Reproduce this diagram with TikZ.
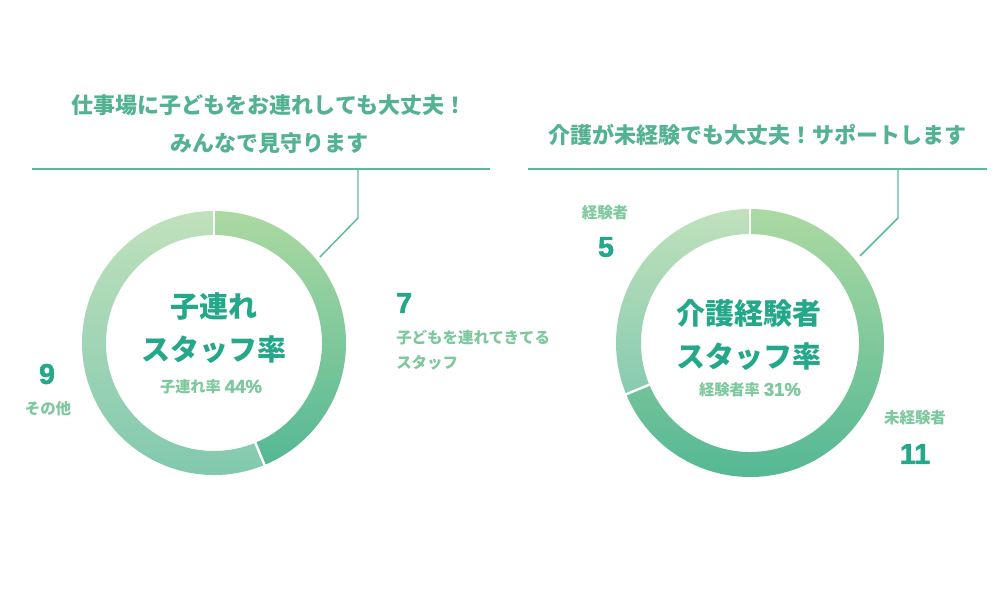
\documentclass[tikz,border=0pt]{standalone}
\usepackage{fontspec}
\setmainfont{Noto Sans CJK JP}
\newfontfamily\numfont{Liberation Sans Bold}[FakeBold=1.8]
\definecolor{titleC}{HTML}{23A88A}
\definecolor{headC}{HTML}{52B292}
\definecolor{lightC}{HTML}{7DC89D}
\definecolor{lineC}{HTML}{5DB99A}
\definecolor{aTop}{HTML}{ACD9A2}
\definecolor{aBot}{HTML}{54B894}
\definecolor{bTop}{HTML}{C0E1BB}
\definecolor{bBot}{HTML}{7DC7AE}
\tikzset{
  head/.style={inner sep=0pt, text=headC, font=\bfseries\fontsize{16.5pt}{18pt}\selectfont},
  ctitle/.style={inner sep=0pt, text=titleC, font=\bfseries\fontsize{21.75pt}{24pt}\selectfont},
  rate/.style={inner sep=0pt, text=lightC, font=\bfseries\fontsize{11.4pt}{13pt}\selectfont},
  lbl/.style={inner sep=0pt, text=lightC, font=\bfseries\fontsize{11.6pt}{13pt}\selectfont},
  bignum/.style={inner sep=0pt, text=titleC, font=\numfont\fontsize{21.4pt}{23pt}\selectfont},
  conn/.style={draw=lineC, line width=1.1pt},
  gap/.style={draw=white, line width=1.8pt}
}
\newcommand{\pct}[1]{{\numfont\fontsize{13.9pt}{15pt}\selectfont #1}}
\begin{document}
\begin{tikzpicture}[x=0.75pt,y=-0.75pt]
\useasboundingbox[fill=white] (0,0) rectangle (1000,589);

% ---------- left donut ----------
\coordinate (cL) at (214,343);
\shade[top color=aTop, bottom color=aBot]
  ([shift={(-90:132)}]cL) arc[start angle=-90,end angle=67.5,radius=132]
  -- ([shift={(67.5:108)}]cL) arc[start angle=67.5,end angle=-90,radius=108] -- cycle;
\shade[top color=bTop, bottom color=bBot]
  ([shift={(67.5:132)}]cL) arc[start angle=67.5,end angle=270,radius=132]
  -- ([shift={(270:108)}]cL) arc[start angle=270,end angle=67.5,radius=108] -- cycle;
\draw[gap] ([shift={(-90:104)}]cL) -- ([shift={(-90:136)}]cL);
\draw[gap] ([shift={(67.5:104)}]cL) -- ([shift={(67.5:136)}]cL);

% ---------- right donut ----------
\coordinate (cR) at (750,343);
\shade[top color=aTop, bottom color=aBot]
  ([shift={(-90:134)}]cR) arc[start angle=-90,end angle=157.5,radius=134]
  -- ([shift={(157.5:109)}]cR) arc[start angle=157.5,end angle=-90,radius=109] -- cycle;
\shade[top color=bTop, bottom color=bBot!85!bTop]
  ([shift={(157.5:134)}]cR) arc[start angle=157.5,end angle=270,radius=134]
  -- ([shift={(270:109)}]cR) arc[start angle=270,end angle=157.5,radius=109] -- cycle;
\draw[gap] ([shift={(-90:105)}]cR) -- ([shift={(-90:138)}]cR);
\draw[gap] ([shift={(157.5:105)}]cR) -- ([shift={(157.5:138)}]cR);

% ---------- headings and connectors ----------
\node[head] (h1) at (269,105) {仕事場に子どもをお連れしても大丈夫！};
\node[head] (h2) at (269,143) {みんなで見守ります};
\node[head] (h3) at (757,135) {介護が未経験でも大丈夫！サポートします};

\coordinate (lA) at (32,169);
\coordinate (lB) at (490,169);
\coordinate (lK) at (358,169);
\coordinate (lM) at (358,218);
\coordinate (lE) at (320,257);
\draw[conn] (lA) -- (lB);
\draw[conn] (lK) -- (lM) -- (lE);

\coordinate (rA) at (528,169);
\coordinate (rB) at (987,169);
\coordinate (rK) at (898,169);
\coordinate (rM) at (898,218);
\coordinate (rE) at (860,256);
\draw[conn] (rA) -- (rB);
\draw[conn] (rK) -- (rM) -- (rE);

% ---------- centre texts ----------
\node[ctitle] (t1) at (214,307) {子連れ};
\node[ctitle] (t2) at (214,350) {スタッフ率};
\node[rate] (t3) at (211,387) {子連れ率\hspace{3pt}\pct{44\%}};

\node[ctitle] (u1) at (749,313) {介護経験者};
\node[ctitle] (u2) at (749,357) {スタッフ率};
\node[rate] (u3) at (750,390) {経験者率\hspace{3pt}\pct{31\%}};

% ---------- value labels ----------
\node[bignum, anchor=west] (n7) at (396,303) {7};
\node[lbl, anchor=west] (l7a) at (396,338) {子どもを連れてきてる};
\node[lbl, anchor=west] (l7b) at (396,363) {スタッフ};

\node[bignum] (n9) at (47,374) {9};
\node[lbl] (l9) at (48,409) {その他};

\node[lbl] (l5) at (605,213) {経験者};
\node[bignum] (n5) at (606,247) {5};

\node[lbl] (l11) at (915,418) {未経験者};
\node[bignum] (n11) at (915,454) {11};
\end{tikzpicture}
\end{document}
